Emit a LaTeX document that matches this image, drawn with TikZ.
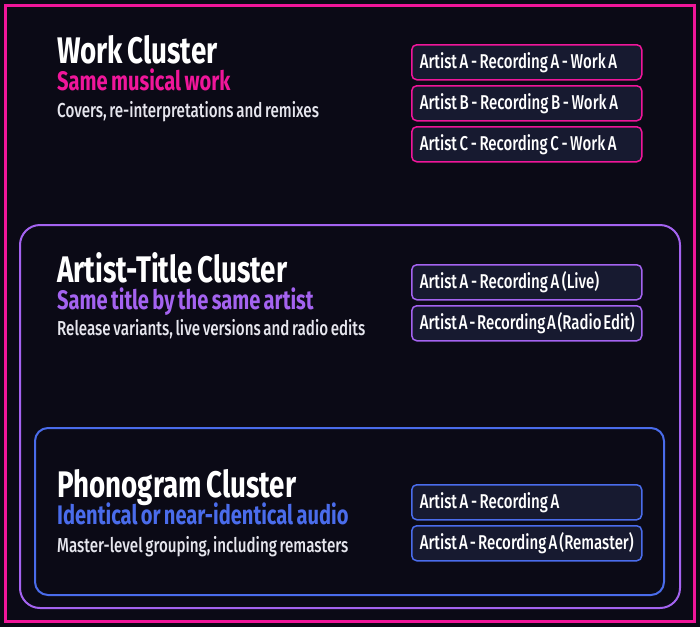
\documentclass[tikz,border=0pt]{standalone}
\usepackage{fontspec}
\setmainfont{Fira Sans}[UprightFont=* Medium,BoldFont=* Bold,
  FakeStretch=0.75,WordSpace=0.7]
\definecolor{bgdark}{HTML}{0B0A16}
\definecolor{workpink}{HTML}{F0169A}
\definecolor{titlepurple}{HTML}{A463F0}
\definecolor{phonoblue}{HTML}{4A6CEB}
\definecolor{recfill}{HTML}{171A30}
\definecolor{desctext}{HTML}{E6E6EE}
\begin{document}
\begin{tikzpicture}[x=1pt,y=-1pt,
    head/.style={anchor=base west,inner sep=0pt,text=white,
      font=\fontsize{37}{37}\selectfont\bfseries},
    sub/.style={anchor=base west,inner sep=0pt,
      font=\fontsize{26.8}{26.8}\selectfont\bfseries},
    desc/.style={anchor=base west,inner sep=0pt,text=desctext,
      font=\fontsize{20.2}{20.2}\selectfont},
    rec/.style={draw=#1,fill=recfill,line width=1.5pt,rounded corners=5pt,
      anchor=north west,minimum width=230pt,minimum height=35pt,
      inner xsep=8pt,inner ysep=0pt,
      execute at begin node={\hbox to 214pt\bgroup},
      execute at end node={\hfil\egroup},
      text=white,font=\fontsize{20}{20}\selectfont}]

    \useasboundingbox (0,0) rectangle (700,627);
    \fill[bgdark] (0,0) rectangle (700,627);

    % cluster frames
    \draw[workpink,line width=3pt] (5.5,5.5) rectangle (694.5,621.5);
    \draw[titlepurple,line width=2pt,rounded corners=20pt] (20,225) rectangle (680,608);
    \draw[phonoblue,line width=2pt,rounded corners=13pt] (35,428) rectangle (664,595);

    % work cluster
    \node[head] (workhead) at (57,63) {Work Cluster};
    \node[sub,text=workpink] (worksub) at (57,90) {Same musical work};
    \node[desc] (workdesc) at (57,117) {Covers, re-interpretations and remixes};
    \node[rec=workpink] (workA) at (411,44) {Artist A - Recording A - Work A};
    \node[rec=workpink] (workB) at (411,85) {Artist B - Recording B - Work A};
    \node[rec=workpink] (workC) at (411,126) {Artist C - Recording C - Work A};

    % artist-title cluster
    \node[head] (titlehead) at (57,282) {Artist-Title Cluster};
    \node[sub,text=titlepurple] (titlesub) at (57,309) {Same title by the same artist};
    \node[desc] (titledesc) at (57,335) {Release variants, live versions and radio edits};
    \node[rec=titlepurple] (titleLive) at (411,264) {Artist A - Recording A (Live)};
    \node[rec=titlepurple] (titleRadio) at (411,305) {Artist A - Recording A (Radio Edit)};

    % phonogram cluster
    \node[head] (phonohead) at (57,497) {Phonogram Cluster};
    \node[sub,text=phonoblue] (phonosub) at (57,524) {Identical or near-identical audio};
    \node[desc] (phonodesc) at (57,552) {Master-level grouping, including remasters};
    \node[rec=phonoblue] (phonoA) at (411,484) {Artist A - Recording A};
    \node[rec=phonoblue] (phonoRem) at (411,525) {Artist A - Recording A (Remaster)};

  \end{tikzpicture}
\end{document}
